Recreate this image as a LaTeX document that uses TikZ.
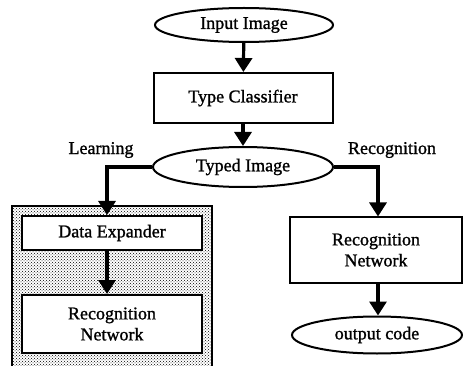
\documentclass[tikz,border=0pt]{standalone}
\usepackage{fontspec}
\setmainfont{Liberation Serif}[BoldFeatures={FakeBold=1.2}, BoldFont=Liberation Serif]
\usetikzlibrary{shapes.geometric,arrows.meta,patterns}
\begin{document}
\begin{tikzpicture}[x=1pt,y=-1pt,
  every node/.style={font=\fontsize{18}{21}\selectfont\bfseries, inner sep=0pt, align=center},
  oval/.style={draw, ellipse, line width=2pt, fill=white},
  blk/.style={draw, rectangle, line width=2pt, fill=white},
  conn/.style={line width=3.2pt, -{Triangle[length=14pt,width=17pt]}}]
\useasboundingbox[fill=white] (0,0) rectangle (463,366);
\draw[line width=2pt, pattern=crosshatch dots, pattern color=black] (12,206) rectangle (212,370);
\node[oval, minimum width=178pt, minimum height=34pt] (in) at (244,25) {Input Image};
\node[blk, minimum width=179pt, minimum height=50pt] (tc) at (243,98) {Type Classifier};
\node[oval, minimum width=180pt, minimum height=40pt] (ti) at (243,167) {Typed Image};
\node (learn) at (101,150) {Learning};
\node (recog) at (392,150) {Recognition};
\node[blk, minimum width=180pt, minimum height=34pt] (de) at (112,233) {Data Expander};
\node[blk, minimum width=180pt, minimum height=58pt] (rn1) at (112,324) {Recognition\\Network};
\node[blk, minimum width=172pt, minimum height=65pt] (rn2) at (376,250) {Recognition\\Network};
\node[oval, minimum width=170pt, minimum height=37pt] (oc) at (377,335) {output code};
\draw[conn] (in) -- (tc);
\draw[conn] (tc) -- (ti);
\draw[conn] (ti.west) -| ([xshift=-5pt]de.north);
\draw[conn] (ti.east) -| ([xshift=2pt]rn2.north);
\draw[conn] ([xshift=-5pt]de.south) -- ([xshift=-5pt]rn1.north);
\draw[conn] ([xshift=2pt]rn2.south) -- ([xshift=2pt]rn2.south |- oc.north);
\end{tikzpicture}
\end{document}
